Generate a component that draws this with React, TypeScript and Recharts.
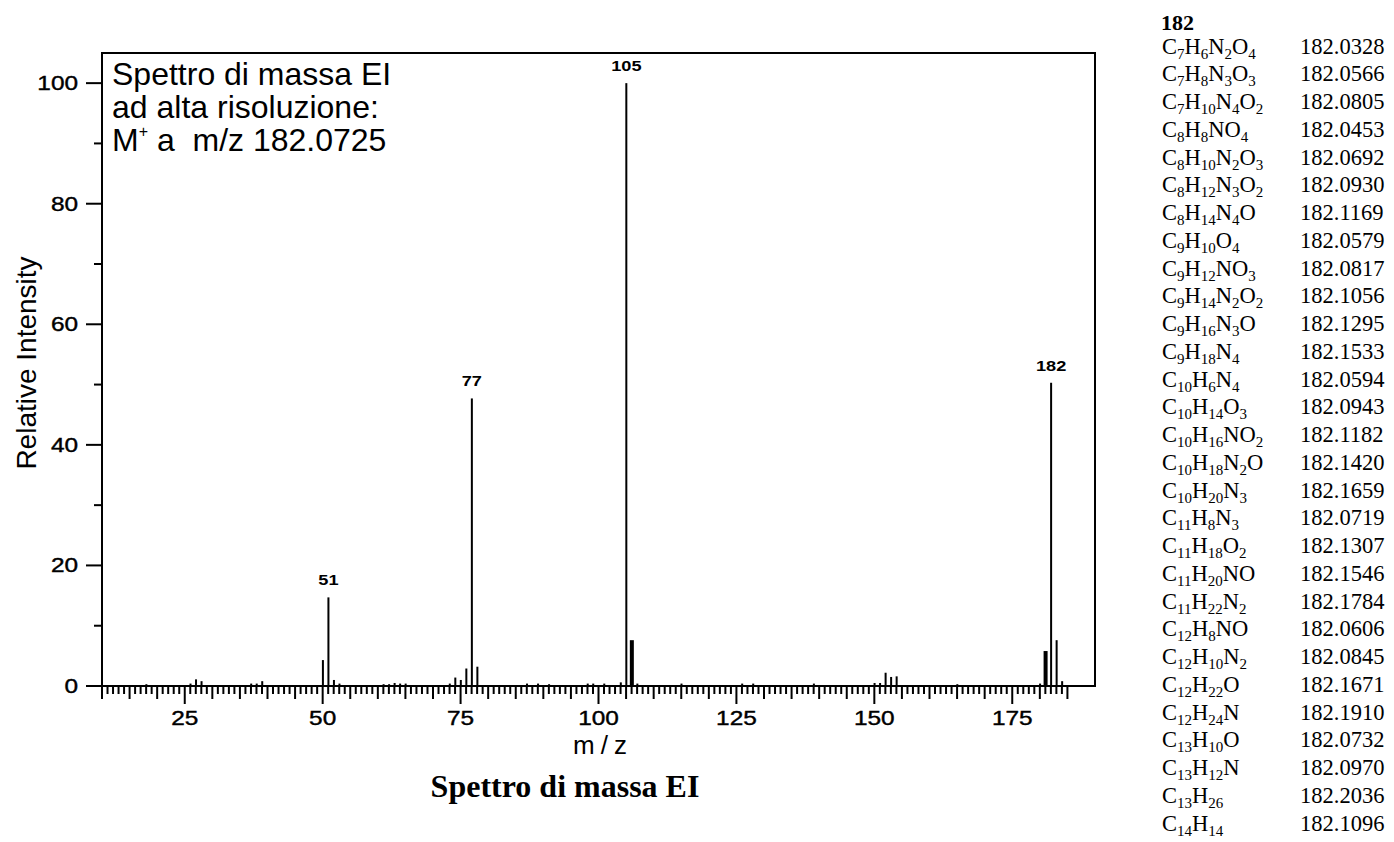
import React from "react";
import { ComposedChart, Bar, XAxis, YAxis, ReferenceArea, LabelList } from "recharts";

// spettro EI: m/z e intensità relativa
const mzValues = [
  18, 26, 27, 28, 37, 38, 39, 50, 51, 52, 53, 61, 62, 63, 64, 65, 73, 74, 75, 76, 77, 78,
  87, 89, 91, 98, 99, 101, 104, 105, 106, 107, 115, 126, 128, 139, 150, 151, 152, 153, 154,
  165, 180, 181, 182, 183, 184,
];
const intensities = [
  0.3, 0.4, 1.1, 0.8, 0.4, 0.4, 0.8, 4.3, 14.7, 1.0, 0.4, 0.3, 0.3, 0.5, 0.4, 0.4, 0.4, 1.4,
  1.0, 2.9, 47.7, 3.2, 0.4, 0.4, 0.3, 0.4, 0.4, 0.4, 0.6, 100, 7.6, 0.4, 0.4, 0.4, 0.4, 0.4,
  0.5, 0.5, 2.2, 1.5, 1.6, 0.3, 0.4, 5.8, 50.3, 7.6, 0.8,
];
const labelledPeaks = [51, 77, 105, 182];
const widePeaks = [106, 181];

const xTickLabels = [25, 50, 75, 100, 125, 150, 175];
const yTicks = [0, 10, 20, 30, 40, 50, 60, 70, 80, 90, 100];
const yTickLabels = [0, 20, 40, 60, 80, 100];

const formulas = [
  "C7H6N2O4", "C7H8N3O3", "C7H10N4O2", "C8H8NO4", "C8H10N2O3", "C8H12N3O2", "C8H14N4O",
  "C9H10O4", "C9H12NO3", "C9H14N2O2", "C9H16N3O", "C9H18N4", "C10H6N4", "C10H14O3",
  "C10H16NO2", "C10H18N2O", "C10H20N3", "C11H8N3", "C11H18O2", "C11H20NO", "C11H22N2",
  "C12H8NO", "C12H10N2", "C12H22O", "C12H24N", "C13H10O", "C13H12N", "C13H26", "C14H14",
];
const exactMasses = [
  "182.0328", "182.0566", "182.0805", "182.0453", "182.0692", "182.0930", "182.1169",
  "182.0579", "182.0817", "182.1056", "182.1295", "182.1533", "182.0594", "182.0943",
  "182.1182", "182.1420", "182.1659", "182.0719", "182.1307", "182.1546", "182.1784",
  "182.0606", "182.0845", "182.1671", "182.1910", "182.0732", "182.0970", "182.2036",
  "182.1096",
];

const data = mzValues.map((mz, i) => ({ mz, intensity: intensities[i] }));
const xTicks = Array.from({ length: 176 }, (_, i) => 10 + i);

const sans = "Arial, 'Liberation Sans', sans-serif";
const serif = "'Times New Roman', 'Liberation Serif', serif";

const XTick = (props: any) => {
  const { x, y, payload } = props;
  const v = payload.value;
  const len = v % 25 === 0 ? 18 : v % 5 === 0 ? 13 : 8;
  return (
    <g>
      <line x1={x} x2={x} y1={y} y2={y + len} stroke="#000" strokeWidth={2} />
      {xTickLabels.includes(v) && (
        <text
          transform={`translate(${x},${y + 39}) scale(1.25,1)`}
          textAnchor="middle"
          fontFamily={sans}
          fontSize={19.5}
          stroke="#000"
          strokeWidth={0.4}
          fill="#000"
        >
          {v}
        </text>
      )}
    </g>
  );
};

const YTick = (props: any) => {
  const { x, y, payload } = props;
  const v = payload.value;
  const major = yTickLabels.includes(v);
  return (
    <g>
      <line x1={x} x2={x - (major ? 16 : 8)} y1={y} y2={y} stroke="#000" strokeWidth={2} />
      {major && (
        <text
          transform={`translate(${x - 24},${y + 7}) scale(1.25,1)`}
          textAnchor="end"
          fontFamily={sans}
          fontSize={19.5}
          stroke="#000"
          strokeWidth={0.4}
          fill="#000"
        >
          {v}
        </text>
      )}
    </g>
  );
};

const PeakShape = (props: any) => {
  const { x, y, width, height, payload } = props;
  const w = widePeaks.includes(payload.mz) ? 4 : 2;
  const cx = x + width / 2;
  return <rect x={cx - w / 2} y={y} width={w} height={height} fill="#000" />;
};

const PeakLabel = (props: any) => {
  const { x, y, width, value } = props;
  if (!labelledPeaks.includes(value)) return null;
  return (
    <text
      transform={`translate(${x + width / 2},${y - 12}) scale(1.3,1)`}
      textAnchor="middle"
      fontFamily={sans}
      fontWeight="bold"
      fontSize={14}
      fill="#000"
    >
      {value}
    </text>
  );
};

const Formula = ({ f }: { f: string }) => {
  const parts = f.match(/[A-Z][a-z]?|\d+/g) || [];
  return (
    <>
      {parts.map((p, i) =>
        /\d/.test(p) ? (
          <span key={i} style={{ fontSize: 15, position: "relative", top: 5 }}>
            {p}
          </span>
        ) : (
          <span key={i}>{p}</span>
        )
      )}
    </>
  );
};

export default function App() {
  return (
    <div style={{ position: "absolute", left: 0, top: 0, width: 1394, height: 842, background: "#fff" }}>
      <div style={{ position: "absolute", left: 0, top: 0 }}>
        <ComposedChart
          width={1120}
          height={842}
          data={data}
          margin={{ top: 53, left: 101, right: 25, bottom: 155 }}
        >
          <XAxis
            dataKey="mz"
            type="number"
            domain={[10, 190]}
            ticks={xTicks}
            interval={0}
            height={1}
            tickSize={0}
            tickMargin={0}
            axisLine={false}
            tickLine={false}
            tick={<XTick />}
          />
          <YAxis
            type="number"
            domain={[0, 105]}
            ticks={yTicks}
            interval={0}
            width={1}
            tickSize={0}
            tickMargin={0}
            axisLine={false}
            tickLine={false}
            tick={<YTick />}
          />
          <Bar dataKey="intensity" barSize={2} shape={<PeakShape />} isAnimationActive={false}>
            <LabelList dataKey="mz" content={<PeakLabel />} />
          </Bar>
          <ReferenceArea x1={10} x2={190} y1={0} y2={105} fill="none" stroke="#000" strokeWidth={2} />
        </ComposedChart>
      </div>

      <div
        style={{
          position: "absolute",
          left: 112,
          top: 58,
          fontFamily: sans,
          fontSize: 32,
          lineHeight: "33px",
          whiteSpace: "pre",
          color: "#000",
        }}
      >
        <div>Spettro di massa EI</div>
        <div>ad alta risoluzione:</div>
        <div>
          M<span style={{ fontSize: 16, position: "relative", top: -14 }}>+</span> a  m/z 182.0725
        </div>
      </div>

      <div
        style={{
          position: "absolute",
          left: 27,
          top: 363,
          transform: "translate(-50%, -50%) rotate(-90deg)",
          fontFamily: sans,
          fontSize: 28,
          lineHeight: 1,
          whiteSpace: "nowrap",
        }}
      >
        Relative Intensity
      </div>

      <div
        style={{
          position: "absolute",
          left: 603,
          top: 745,
          transform: "translate(-50%, -50%)",
          fontFamily: sans,
          fontSize: 26,
          letterSpacing: 6,
          lineHeight: 1,
          whiteSpace: "nowrap",
        }}
      >
        m/z
      </div>

      <div
        style={{
          position: "absolute",
          left: 565,
          top: 786,
          transform: "translate(-50%, -50%)",
          fontFamily: serif,
          fontWeight: "bold",
          fontSize: 32,
          lineHeight: 1,
          whiteSpace: "nowrap",
        }}
      >
        Spettro di massa EI
      </div>

      <div
        style={{
          position: "absolute",
          left: 1161,
          top: 9,
          fontFamily: serif,
          fontWeight: "bold",
          fontSize: 22,
          lineHeight: "27.75px",
        }}
      >
        182
      </div>
      <div style={{ position: "absolute", left: 1162, top: 32.5, fontFamily: serif, fontSize: 22.5 }}>
        {formulas.map((f, i) => (
          <div key={f} style={{ height: 27.75, lineHeight: "27.75px", whiteSpace: "nowrap", position: "relative" }}>
            <span style={{ position: "absolute", left: 0 }}>
              <Formula f={f} />
            </span>
            <span style={{ position: "absolute", left: 138 }}>{exactMasses[i]}</span>
          </div>
        ))}
      </div>
    </div>
  );
}
